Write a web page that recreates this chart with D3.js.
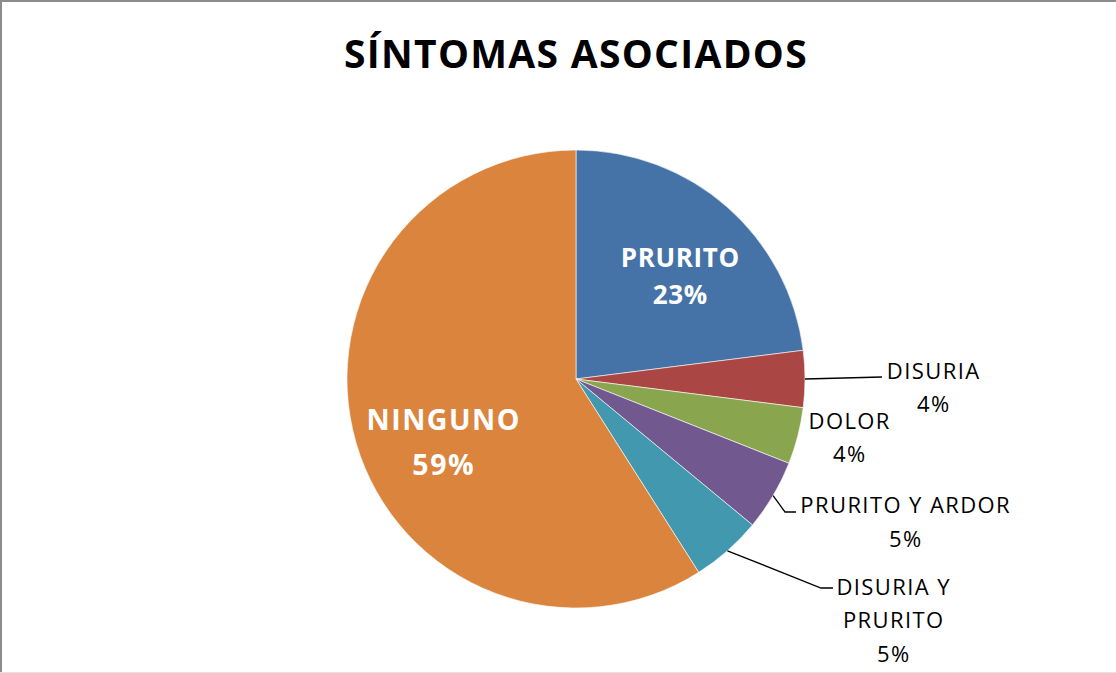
<!DOCTYPE html>
<html>
<head>
<meta charset="utf-8">
<script src="https://cdn.jsdelivr.net/npm/d3@7"></script>
<style>
  html, body { margin: 0; padding: 0; background: #fff; }
  svg { display: block; font-family: "Open Sans", "Noto Sans", sans-serif; }
</style>
</head>
<body>
<svg id="chart" width="1116" height="673"></svg>
<script>
// Síntomas asociados — share of patients per symptom (%)
const categories = ["PRURITO", "DISURIA", "DOLOR", "PRURITO Y ARDOR", "DISURIA Y PRURITO", "NINGUNO"];
const values = [23, 4, 4, 5, 5, 59];
const colors = ["#4572A7", "#AA4643", "#89A54E", "#71588F", "#4198AF", "#DB843D"];
const labelLines = [
  ["PRURITO"], ["DISURIA"], ["DOLOR"], ["PRURITO Y ARDOR"], ["DISURIA Y", "PRURITO"], ["NINGUNO"]
];
const title = "SÍNTOMAS ASOCIADOS";

const width = 1116, height = 673;
const cx = 576, cy = 379, radius = 229;

const svg = d3.select("#chart");

// Chart frame: top and left edges, faint bottom edge
svg.append("line").attr("x1", 0).attr("x2", width).attr("y1", 1).attr("y2", 1)
  .attr("stroke", "#8c8c8c").attr("stroke-width", 2);
svg.append("line").attr("x1", 1).attr("x2", 1).attr("y1", 0).attr("y2", height)
  .attr("stroke", "#8c8c8c").attr("stroke-width", 2);
svg.append("line").attr("x1", 0).attr("x2", width).attr("y1", height - 0.5).attr("y2", height - 0.5)
  .attr("stroke", "#e4e4e4").attr("stroke-width", 1);

svg.append("text")
  .attr("x", 576).attr("y", 68)
  .attr("text-anchor", "middle")
  .attr("font-size", 39).attr("font-weight", 700)
  .attr("letter-spacing", 1.3)
  .attr("fill", "#000")
  .text(title);

const data = categories.map((c, i) => ({ name: c, value: values[i], color: colors[i], lines: labelLines[i] }));

const pie = d3.pie().value(d => d.value).sort(null);
const arcs = pie(data);
const arc = d3.arc().innerRadius(0).outerRadius(radius);

const g = svg.append("g").attr("transform", `translate(${cx},${cy})`);

g.selectAll("path.slice")
  .data(arcs)
  .join("path")
  .attr("class", "slice")
  .attr("d", arc)
  .attr("fill", d => d.data.color)
  .attr("stroke", "#fff")
  .attr("stroke-width", 0.6);

// Label placement relative to the pie centre: x, line baselines, leader-line elbows
const labelLayout = {
  "PRURITO":           { x: 104,  ys: [-112, -75], inside: true, size: 26, ls: 0.6 },
  "NINGUNO":           { x: -133, ys: [51, 96],    inside: true, size: 28.5, ls: 1.5 },
  "DISURIA":           { x: 357,  ys: [0, 33],     size: 22, ls: 1.4, elbow: [[306, -2]] },
  "DOLOR":             { x: 273,  ys: [50, 83],    size: 22, ls: 1.4 },
  "PRURITO Y ARDOR":   { x: 329,  ys: [134, 168],  size: 22, ls: 1.4, elbow: [[209, 133], [220, 133]] },
  "DISURIA Y PRURITO": { x: 317,  ys: [216, 249, 283], size: 22, ls: 1.4, elbow: [[245, 209], [257, 209]] }
};

const pctFmt = v => d3.format(".0f")(v) + "%";

arcs.forEach(a => {
  const L = labelLayout[a.data.name];
  if (L.elbow) {
    const mid = (a.startAngle + a.endAngle) / 2;
    const start = [Math.sin(mid) * radius, -Math.cos(mid) * radius];
    g.append("path")
      .attr("d", d3.line()([start, ...L.elbow]))
      .attr("fill", "none")
      .attr("stroke", "#000")
      .attr("stroke-width", 1.3);
  }
  const lines = [...a.data.lines, pctFmt(a.data.value)];
  const t = g.append("text")
    .attr("text-anchor", "middle")
    .attr("font-size", L.size)
    .attr("letter-spacing", L.ls)
    .attr("font-weight", L.inside ? 700 : 400)
    .attr("fill", L.inside ? "#fff" : "#000");
  lines.forEach((s, i) => {
    t.append("tspan")
      .attr("x", L.x + L.ls / 2)
      .attr("y", L.ys[i])
      .text(s);
  });
});
</script>
</body>
</html>
